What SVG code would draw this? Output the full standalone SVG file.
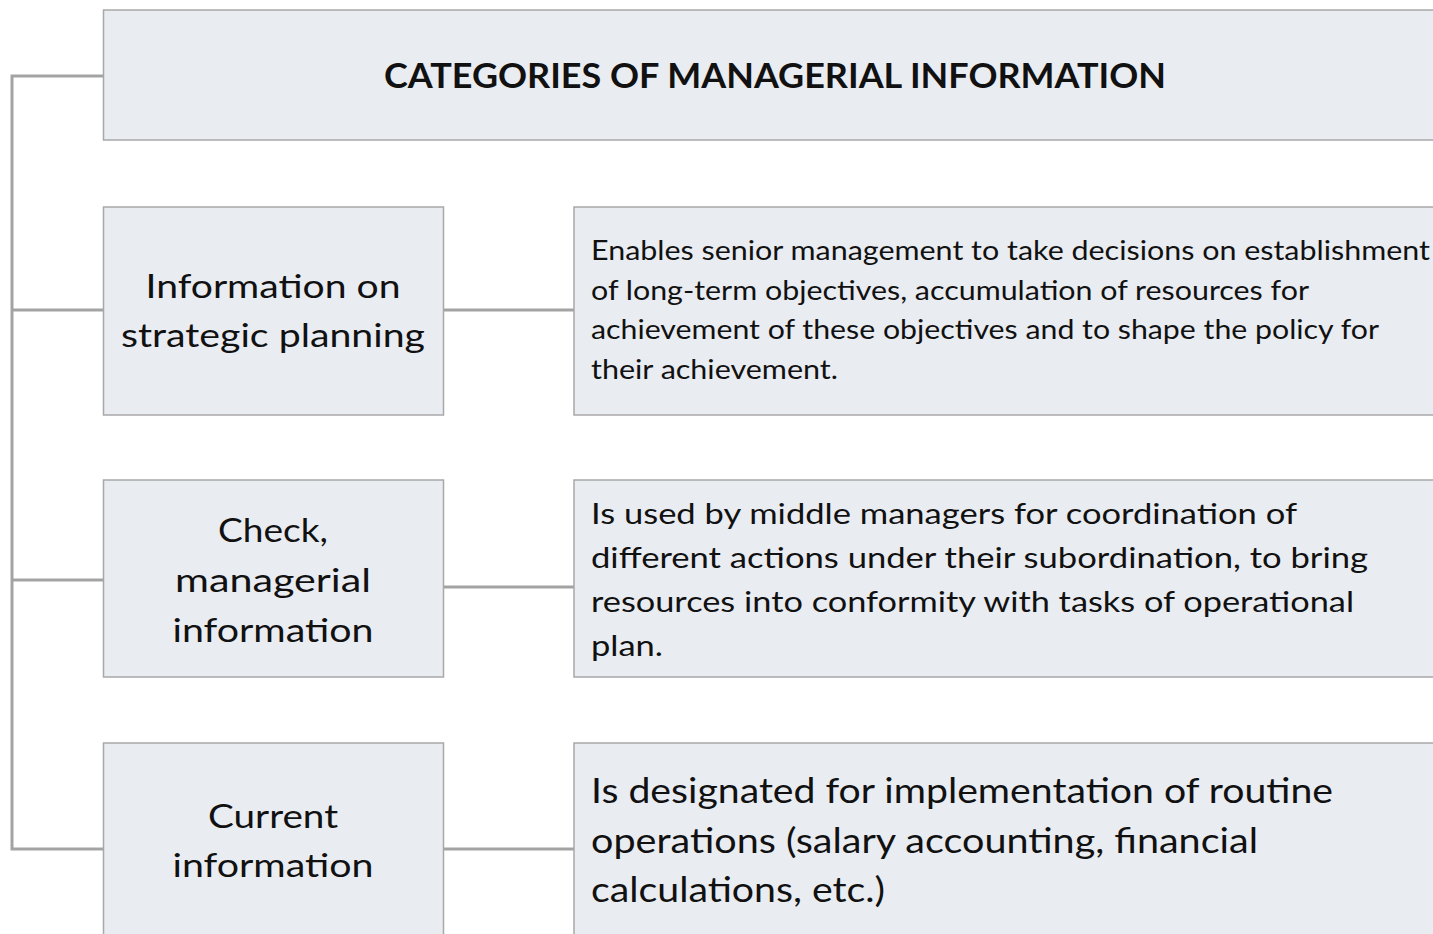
<svg xmlns="http://www.w3.org/2000/svg" width="1433" height="934" viewBox="0 0 1433 934">
  <style>
    .box { fill: #e9ecf1; stroke: #a8a8a8; stroke-width: 1.5; }
    .wire { fill: none; stroke: #a3a3a3; stroke-width: 3; }
    .t { font-family: Lato, "Open Sans", "Liberation Sans", sans-serif; fill: #111; }
    .title { font-weight: bold; font-size: 35px; }
    .cat { font-size: 32px; text-anchor: middle; }
    .d1 { font-size: 27px; }
    .d2 { font-size: 29px; }
    .d3 { font-size: 34px; }
  </style>
  <rect width="1433" height="934" fill="#ffffff"/>

  <g id="connectors">
    <path class="wire" d="M103 76 H12 V849 H103"/>
    <path class="wire" d="M12 310 H103"/>
    <path class="wire" d="M12 580 H103"/>
    <path class="wire" d="M444 310 H574"/>
    <path class="wire" d="M444 587 H574"/>
    <path class="wire" d="M444 849 H574"/>
  </g>

  <g id="title">
    <rect class="box" x="103.5" y="10" width="1340" height="130"/>
    <text class="t title" x="384" y="88" textLength="782" lengthAdjust="spacingAndGlyphs">CATEGORIES OF MANAGERIAL INFORMATION</text>
  </g>

  <g id="strategic">
    <rect class="box" x="103.5" y="207" width="340" height="208"/>
    <text class="t cat" x="273" y="298" textLength="255" lengthAdjust="spacingAndGlyphs">Information on</text>
    <text class="t cat" x="273" y="347" textLength="304" lengthAdjust="spacingAndGlyphs">strategic planning</text>
  </g>

  <g id="strategic-desc">
    <rect class="box" x="574" y="207" width="870" height="208"/>
    <text class="t d1" x="591" y="260" textLength="839" lengthAdjust="spacingAndGlyphs">Enables senior management to take decisions on establishment</text>
    <text class="t d1" x="591" y="300" textLength="718" lengthAdjust="spacingAndGlyphs">of long-term objectives, accumulation of resources for</text>
    <text class="t d1" x="591" y="339" textLength="788" lengthAdjust="spacingAndGlyphs">achievement of these objectives and to shape the policy for</text>
    <text class="t d1" x="591" y="379" textLength="247" lengthAdjust="spacingAndGlyphs">their achievement.</text>
  </g>

  <g id="control">
    <rect class="box" x="103.5" y="480" width="340" height="197"/>
    <text class="t cat" x="273" y="542" textLength="110" lengthAdjust="spacingAndGlyphs">Check,</text>
    <text class="t cat" x="273" y="592" textLength="196" lengthAdjust="spacingAndGlyphs">managerial</text>
    <text class="t cat" x="273" y="642" textLength="201" lengthAdjust="spacingAndGlyphs">information</text>
  </g>

  <g id="control-desc">
    <rect class="box" x="574" y="480" width="870" height="197"/>
    <text class="t d2" x="591" y="524" textLength="706" lengthAdjust="spacingAndGlyphs">Is used  by middle managers for coordination of</text>
    <text class="t d2" x="591" y="568" textLength="777" lengthAdjust="spacingAndGlyphs">different  actions under their subordination, to bring</text>
    <text class="t d2" x="591" y="612" textLength="763" lengthAdjust="spacingAndGlyphs">resources  into conformity with tasks of operational</text>
    <text class="t d2" x="591" y="656" textLength="72" lengthAdjust="spacingAndGlyphs">plan.</text>
  </g>

  <g id="current">
    <rect class="box" x="103.5" y="743" width="340" height="210"/>
    <text class="t cat" x="273" y="828" textLength="130" lengthAdjust="spacingAndGlyphs">Current</text>
    <text class="t cat" x="273" y="877" textLength="201" lengthAdjust="spacingAndGlyphs">information</text>
  </g>

  <g id="current-desc">
    <rect class="box" x="574" y="743" width="870" height="210"/>
    <text class="t d3" x="591" y="803" textLength="742" lengthAdjust="spacingAndGlyphs">Is designated for implementation of routine</text>
    <text class="t d3" x="591" y="853" textLength="667" lengthAdjust="spacingAndGlyphs">operations (salary accounting, financial</text>
    <text class="t d3" x="591" y="902" textLength="294" lengthAdjust="spacingAndGlyphs">calculations, etc.)</text>
  </g>
</svg>
